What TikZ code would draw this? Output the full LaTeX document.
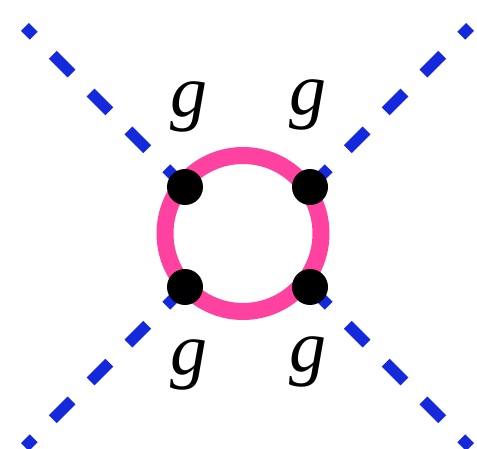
\documentclass[tikz,border=0pt]{standalone}
\usepackage{fontspec}
\newfontfamily\gfont{Liberation Serif}
\usetikzlibrary{calc}
\definecolor{lineblue}{RGB}{20,40,220}
\definecolor{loopink}{RGB}{255,66,160}
\newcommand{\gsym}{{\gfont\itshape g}}
\begin{document}
\begin{tikzpicture}[x=1pt,y=-1pt,
  scalar/.style={draw=lineblue,line width=11pt,dash pattern=on 26.5pt off 27pt},
  loopline/.style={draw=loopink,line width=17pt},
  vertex/.style={circle,fill=black,inner sep=0pt,minimum size=36pt},
  glabel/.style={inner sep=0pt,anchor=base,font=\fontsize{74}{74}\selectfont}]
\useasboundingbox (0,0) rectangle (477,449);
\coordinate (c) at (243,233.5);
\coordinate (vtl) at (185,187);
\coordinate (vtr) at (310,187);
\coordinate (vbl) at (185,287);
\coordinate (vbr) at (310,287);
\coordinate (etl) at ($(vtl)+(-160,-160)$);
\coordinate (etr) at ($(vtr)+(160,-160)$);
\coordinate (ebl) at ($(vbl)+(-160,160)$);
\coordinate (ebr) at ($(vbr)+(160,160)$);
\draw[scalar] (vtl) -- (etl);
\draw[scalar] (vtr) -- (etr);
\draw[scalar] (vbl) -- (ebl);
\draw[scalar] (vbr) -- (ebr);
\draw[loopline] (c) circle[radius=78];
\node[vertex] (tl) at (vtl) {};
\node[vertex] (tr) at (vtr) {};
\node[vertex] (bl) at (vbl) {};
\node[vertex] (br) at (vbr) {};
\node[glabel] (gtl) at (189,117) {\gsym};
\node[glabel] (gtr) at (308,115) {\gsym};
\node[glabel] (gbl) at (189,374) {\gsym};
\node[glabel] (gbr) at (308,371) {\gsym};
\end{tikzpicture}
\end{document}
